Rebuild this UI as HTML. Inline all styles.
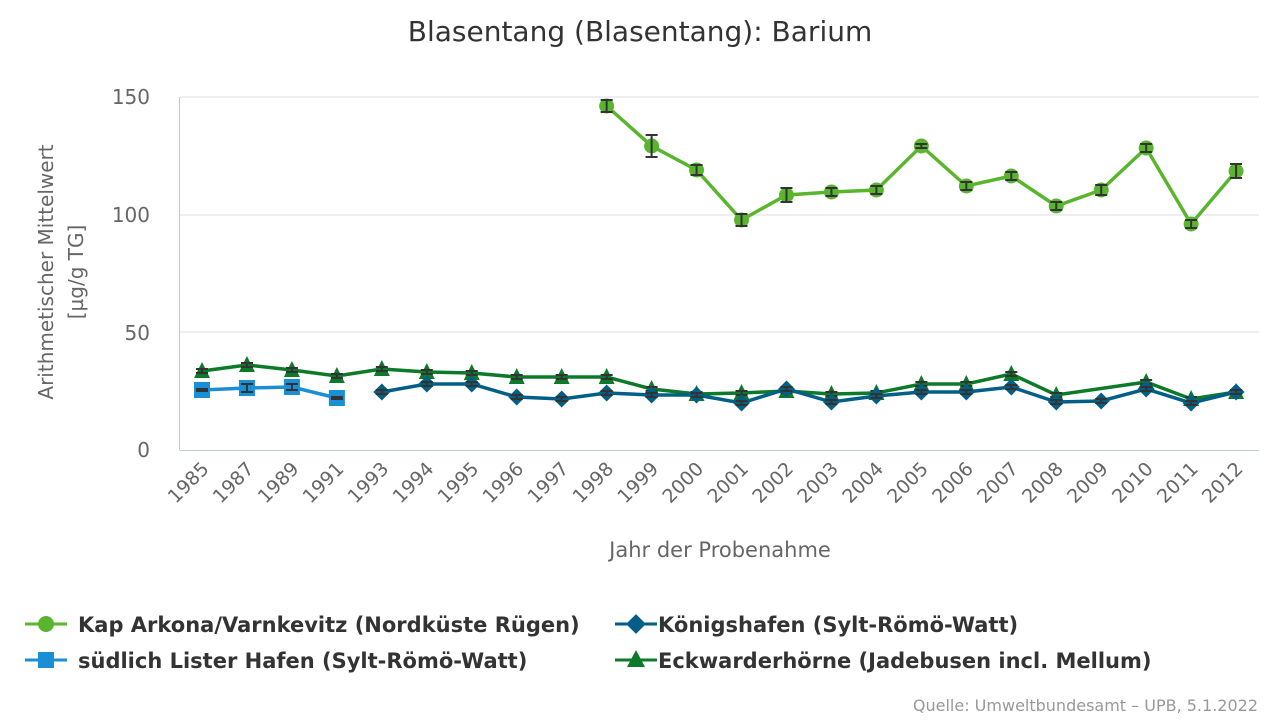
<!DOCTYPE html>
<html><head><meta charset="utf-8"><style>
body{margin:0;background:#fff;width:1280px;height:720px;overflow:hidden}
text{font-family:"DejaVu Sans","Liberation Sans",sans-serif}
</style></head><body>
<svg width="1280" height="720" xmlns="http://www.w3.org/2000/svg">
<text x="640" y="41" text-anchor="middle" font-size="28" fill="#333">Blasentang (Blasentang): Barium</text>
<g stroke="#d8dee6" stroke-width="1">
<line x1="180" y1="97" x2="1259" y2="97"/><line x1="180" y1="215" x2="1259" y2="215"/><line x1="180" y1="332" x2="1259" y2="332"/>
</g>
<line x1="180" y1="450.5" x2="1259" y2="450.5" stroke="#c0c8d2"/>
<line x1="179.5" y1="97" x2="179.5" y2="450" stroke="#c0c8d2"/>
<g font-size="20" fill="#666" text-anchor="end">
<text x="150" y="104">150</text><text x="150" y="222">100</text><text x="150" y="340">50</text><text x="150" y="457">0</text>
</g>
<g font-size="20" fill="#666" transform="translate(53,272) rotate(-90)" text-anchor="middle">
<text x="0" y="0">Arithmetischer Mittelwert</text><text x="0" y="30">[µg/g TG]</text>
</g>
<g id="xl" font-size="19" fill="#666" text-anchor="end"></g>
<text x="720" y="557" text-anchor="middle" font-size="21" fill="#666">Jahr der Probenahme</text>
<g id="series"></g>
<g font-size="21" fill="#333" font-weight="bold">
<line x1="25" y1="624" x2="67" y2="624" stroke="#5ab52e" stroke-width="3"/><circle cx="46" cy="624" r="8" fill="#5ab52e"/>
<text x="78" y="632">Kap Arkona/Varnkevitz (Nordküste Rügen)</text>
<line x1="615" y1="624" x2="657" y2="624" stroke="#005f87" stroke-width="3"/><rect x="629" y="617" width="14" height="14" fill="#005f87" transform="rotate(45 636 624)"/>
<text x="658" y="632">Königshafen (Sylt-Römö-Watt)</text>
<line x1="25" y1="660" x2="67" y2="660" stroke="#1a8fd6" stroke-width="3"/><rect x="38" y="652" width="16" height="16" fill="#1a8fd6"/>
<text x="78" y="668">südlich Lister Hafen (Sylt-Römö-Watt)</text>
<line x1="615" y1="660" x2="657" y2="660" stroke="#0d7a2a" stroke-width="3"/><polygon points="636,650 645,667 627,667" fill="#0d7a2a"/>
<text x="658" y="668">Eckwarderhörne (Jadebusen incl. Mellum)</text>
</g>
<text x="1258" y="711" text-anchor="end" font-size="16" fill="#999">Quelle: Umweltbundesamt – UPB, 5.1.2022</text>
</svg>
<script>
const years=[1985,1987,1989,1991,1993,1994,1995,1996,1997,1998,1999,2000,2001,2002,2003,2004,2005,2006,2007,2008,2009,2010,2011,2012];
const X=i=>202+i*44.96;
const ns="http://www.w3.org/2000/svg";
const xl=document.getElementById('xl');
years.forEach((y,i)=>{const t=document.createElementNS(ns,'text');t.setAttribute('transform',`translate(${X(i)+8},470) rotate(-45)`);t.textContent=y;xl.appendChild(t);});
const S=document.getElementById('series');
function draw(start,ys,col,shape,err){
 let pts=[];ys.forEach((y,k)=>{if(y!=null)pts.push([X(start+k),y]);});
 let p=document.createElementNS(ns,'polyline');p.setAttribute('points',pts.map(a=>a.join(',')).join(' '));
 p.setAttribute('fill','none');p.setAttribute('stroke',col);p.setAttribute('stroke-width','3.5');S.appendChild(p);
 let h='';
 pts.forEach(([x,y],k)=>{
  if(shape=='c')h+=`<circle cx="${x}" cy="${y}" r="7.5" fill="${col}"/>`;
  if(shape=='s')h+=`<rect x="${x-8}" y="${y-8}" width="16" height="16" fill="${col}"/>`;
  if(shape=='d')h+=`<rect x="${x-6}" y="${y-6}" width="12" height="12" fill="${col}" transform="rotate(45 ${x} ${y})"/>`;
  if(shape=='t')h+=`<polygon points="${x},${y-9} ${x+8},${y+7} ${x-8},${y+7}" fill="${col}"/>`;
  const e=err?err[k]||2:2;
  h+=`<path d="M${x-6} ${y-e}h12M${x} ${y-e}v${2*e}M${x-6} ${y+e}h12" stroke="#333" stroke-width="2" fill="none"/>`;
 });
 S.insertAdjacentHTML('beforeend',h);
}
draw(0,[371,365,370,376,369,372,373,377,377,377,389,394,393,391,394,393,384,384,374,395,null,382,399,392],'#0d7a2a','t');
draw(4,[392,384,384,397,399,393,395,395,403,389,402,396,392,392,387,402,401,389,403,392],'#005f87','d');
draw(0,[390,388,387,398],'#1a8fd6','s',[1,4,3,1]);
draw(9,[106,146,170,220,195,192,190,146,186,176,206,190,148,224,171],'#5ab52e','c',[6,11,5,6,7,4,4,2,4,4,4,5,4,4,7]);
</script>
</body></html>
